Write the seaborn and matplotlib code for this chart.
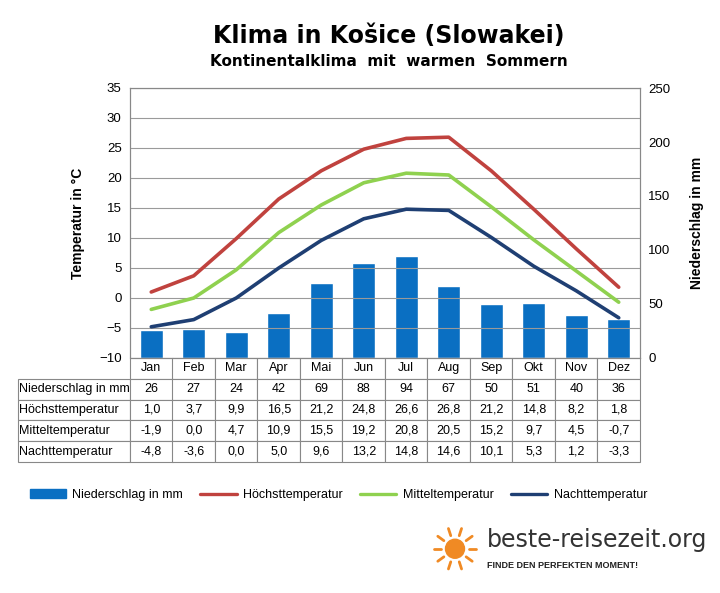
import numpy as np
import pandas as pd
import matplotlib
matplotlib.use("Agg")
import matplotlib.pyplot as plt
import seaborn as sns
from matplotlib.lines import Line2D
from matplotlib.patches import Patch, Circle

months = ["Jan", "Feb", "Mar", "Apr", "Mai", "Jun", "Jul", "Aug", "Sep", "Okt", "Nov", "Dez"]
niederschlag = [26, 27, 24, 42, 69, 88, 94, 67, 50, 51, 40, 36]
hoechst = [1.0, 3.7, 9.9, 16.5, 21.2, 24.8, 26.6, 26.8, 21.2, 14.8, 8.2, 1.8]
mittel = [-1.9, 0.0, 4.7, 10.9, 15.5, 19.2, 20.8, 20.5, 15.2, 9.7, 4.5, -0.7]
nacht = [-4.8, -3.6, 0.0, 5.0, 9.6, 13.2, 14.8, 14.6, 10.1, 5.3, 1.2, -3.3]

c_bar = "#0a6fc2"
c_hi = "#c0423e"
c_mid = "#8fd14f"
c_lo = "#1f3f73"

sns.set_theme(style="white", rc={"font.family": "Liberation Sans", "text.color": "black"})
fig = plt.figure(figsize=(7.2, 5.93), dpi=100, facecolor="white")

L, R, T, B = 130, 640, 88, 358
W, H = 720, 593
ax = fig.add_axes([L / W, 1 - B / H, (R - L) / W, (B - T) / H])
ax2 = ax.twinx()

df = pd.DataFrame({"m": months, "n": niederschlag, "x": np.arange(12)})
ax2.bar(df["x"], df["n"], width=0.55, color=c_bar, zorder=2)
ax2.set_ylim(0, 250)
ax2.set_yticks(range(0, 251, 50))

x = np.arange(12)
sns.lineplot(x=x, y=hoechst, ax=ax, color=c_hi, lw=2.6, zorder=5)
sns.lineplot(x=x, y=mittel, ax=ax, color=c_mid, lw=2.6, zorder=5)
sns.lineplot(x=x, y=nacht, ax=ax, color=c_lo, lw=2.6, zorder=5)
ax.set_zorder(ax2.get_zorder() + 1)
ax.patch.set_visible(False)

ax.set_ylim(-10, 35)
ax.set_yticks(range(-10, 36, 5))
ax.set_xlim(-0.5, 11.5)
ax.set_xticks([])
ax.grid(False)
for v in range(-5, 36, 5):
    ax.axhline(v, color="#9a9a9a", lw=0.8, zorder=0)
for a in (ax, ax2):
    for s in a.spines.values():
        s.set_color("#888888")
        s.set_linewidth(0.8)
    a.tick_params(labelsize=9.5, colors="black", length=0, pad=6)
ax.set_ylabel("Temperatur in °C", fontsize=10, fontweight="bold", labelpad=10, color="black")
ax2.set_ylabel("Niederschlag in mm", fontsize=10, fontweight="bold", labelpad=14, color="black")

# table
def fmt(v):
    return f"{v:.1f}".replace(".", ",")

rows = [
    ["Niederschlag in mm"] + [str(v) for v in niederschlag],
    ["Höchsttemperatur"] + [fmt(v) for v in hoechst],
    ["Mitteltemperatur"] + [fmt(v) for v in mittel],
    ["Nachttemperatur"] + [fmt(v) for v in nacht],
]
tab_ax = fig.add_axes([18 / W, 1 - 462 / H, (R - 18) / W, (462 - B) / H])
tab_ax.axis("off")
cell_text = [[""] + months] + rows
col_w = [(L - 18) / (R - 18)] + [((R - L) / 12) / (R - 18)] * 12
tbl = tab_ax.table(cellText=cell_text, colWidths=col_w, bbox=[0, 0, 1, 1], cellLoc="center")
tbl.auto_set_font_size(False)
tbl.set_fontsize(9)
for (r, c), cell in tbl.get_celld().items():
    cell.set_edgecolor("#888888")
    cell.set_linewidth(0.8)
    if c == 0:
        cell.set_text_props(ha="left")
        cell.PAD = 0.005
    if r == 0 and c == 0:
        cell.set_edgecolor("white")

# legend
handles = [
    Patch(color=c_bar, label="Niederschlag in mm"),
    Line2D([], [], color=c_hi, lw=2.4, label="Höchsttemperatur"),
    Line2D([], [], color=c_mid, lw=2.4, label="Mitteltemperatur"),
    Line2D([], [], color=c_lo, lw=2.4, label="Nachttemperatur"),
]
fig.legend(handles=handles, loc="center", bbox_to_anchor=(0.47, 1 - 495 / H), ncol=4,
           frameon=False, fontsize=9, handlelength=2.9, columnspacing=1.4, handletextpad=0.5)

# titles
fig.text(0.54, 1 - 36 / H, "Klima in Košice (Slowakei)", ha="center", va="center",
         fontsize=17, fontweight="bold", family="DejaVu Sans")
fig.text(0.54, 1 - 62 / H, "Kontinentalklima  mit  warmen  Sommern", ha="center", va="center",
         fontsize=11, fontweight="bold", family="DejaVu Sans")

# logo
lg = fig.add_axes([425 / W, 1 - 575 / H, 55 / W, 50 / H])
lg.set_xlim(-1, 1); lg.set_ylim(-1, 1); lg.axis("off"); lg.set_aspect("equal")
lg.add_patch(Circle((0.1, 0.05), 0.38, color="#f08a24"))
for ang in np.linspace(0, 2 * np.pi, 10, endpoint=False):
    lg.plot([0.1 + 0.55 * np.cos(ang), 0.1 + 0.85 * np.cos(ang)],
            [0.05 + 0.55 * np.sin(ang), 0.05 + 0.85 * np.sin(ang)], color="#f08a24", lw=2)
fig.text(487 / W, 1 - 540 / H, "beste-reisezeit.org", fontsize=17, color="#333333", va="center",
         family="DejaVu Sans")
fig.text(487 / W, 1 - 566 / H, "FINDE DEN PERFEKTEN MOMENT!", fontsize=6.5, fontweight="bold",
         color="#222222", va="center")

fig.savefig("out.png", dpi=100, facecolor="white")
